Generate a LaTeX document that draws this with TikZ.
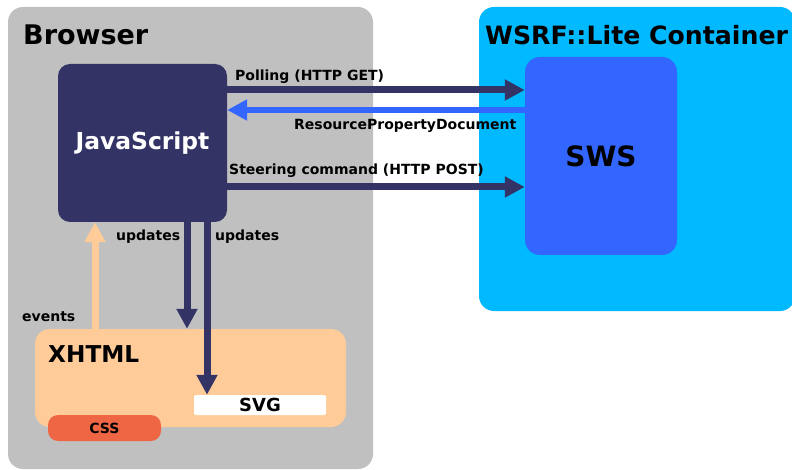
\documentclass[tikz,border=0pt]{standalone}
\usepackage{fontspec}
\setmainfont{DejaVu Sans}
\usetikzlibrary{arrows.meta}
\definecolor{browsergray}{HTML}{C0C0C0}
\definecolor{containerblue}{HTML}{00B9FF}
\definecolor{swsblue}{HTML}{3366FF}
\definecolor{jsnavy}{HTML}{333366}
\definecolor{xhtmlpeach}{HTML}{FFCC99}
\definecolor{cssred}{HTML}{EE6644}
\tikzset{
  lbl/.style={font=\bfseries\fontsize{14}{16}\selectfont, inner sep=0pt},
  flow/.style={line width=7pt, -{Triangle[length=20pt,width=20pt]}},
}
\begin{document}
\begin{tikzpicture}[x=1pt,y=-1pt]
\useasboundingbox (0,0) rectangle (792,470);
\fill[white] (0,0) rectangle (792,470);

% Browser panel
\fill[browsergray, rounded corners=15pt] (8,7) rectangle (373,469);
\node[anchor=base west, inner sep=0pt, font=\bfseries\fontsize{27}{30}\selectfont] (browserlbl) at (23,45) {Browser};

% WSRF::Lite container panel
\fill[containerblue, rounded corners=15pt] (479,7) rectangle (795,311);
\node[anchor=base west, inner sep=0pt, font=\bfseries\fontsize{25.2}{28}\selectfont] (containerlbl) at (485,45) {WSRF::Lite Container};

% SWS service
\node[fill=swsblue, rounded corners=15pt, minimum width=152pt, minimum height=198pt, inner sep=0pt,
      font=\bfseries\fontsize{28}{30}\selectfont] (sws) at (601,156) {SWS};

% JavaScript
\node[fill=jsnavy, rounded corners=12pt, minimum width=169pt, minimum height=158pt, inner sep=0pt,
      text=white, font=\bfseries\fontsize{23.4}{26}\selectfont] (js) at (142.5,143) {JavaScript};

% XHTML document
\node[fill=xhtmlpeach, rounded corners=15pt, minimum width=311pt, minimum height=98pt, inner sep=0pt] (xhtml) at (190.5,378) {};
\node[anchor=base west, inner sep=0pt, font=\bfseries\fontsize{23.2}{26}\selectfont] (xhtmllbl) at (48,362) {XHTML};

% SVG and CSS
\node[fill=white, rounded corners=2pt, minimum width=132pt, minimum height=20pt, inner sep=0pt,
      font=\bfseries\fontsize{18}{20}\selectfont] (svg) at (260,405) {SVG};
\node[fill=cssred, rounded corners=10pt, minimum width=113pt, minimum height=26pt, inner sep=0pt,
      font=\bfseries\fontsize{14}{16}\selectfont] (css) at (104.5,428) {CSS};

% Anchor points along the box edges
\coordinate (pollA) at (js.east |- 0,90);
\coordinate (pollB) at (sws.west |- 0,90);
\coordinate (resA) at (sws.west |- 0,110);
\coordinate (resB) at (js.east |- 0,110);
\coordinate (steerA) at (js.east |- 0,187);
\coordinate (steerB) at (sws.west |- 0,187);
\coordinate (upA) at (187,0 |- js.south);
\coordinate (upB) at (187,0 |- xhtml.north);
\coordinate (upC) at (207,0 |- js.south);
\coordinate (upD) at (207,0 |- svg.north);
\coordinate (evA) at (95,0 |- xhtml.north);
\coordinate (evB) at (95,0 |- js.south);

% Messages between JavaScript and SWS
\draw[flow, jsnavy] (pollA) -- (pollB);
\draw[flow, swsblue, line width=6pt] (resA) -- (resB);
\draw[flow, jsnavy] (steerA) -- (steerB);

% Page updates and events
\draw[flow, jsnavy] (upA) -- (upB);
\draw[flow, jsnavy] (upC) -- (upD);
\draw[flow, xhtmlpeach] (evA) -- (evB);

% Labels
\node[lbl, anchor=base west] (pollLbl) at (235,81) {Polling (HTTP GET)};
\node[lbl, anchor=base west] (resLbl) at (294,130) {ResourcePropertyDocument};
\node[lbl, anchor=base west] (steerLbl) at (229,175) {Steering command (HTTP POST)};
\node[lbl, anchor=base west] (upLblA) at (116,241) {updates};
\node[lbl, anchor=base west] (upLblB) at (215,241) {updates};
\node[lbl, anchor=base west] (evLbl) at (22,321) {events};
\end{tikzpicture}
\end{document}
